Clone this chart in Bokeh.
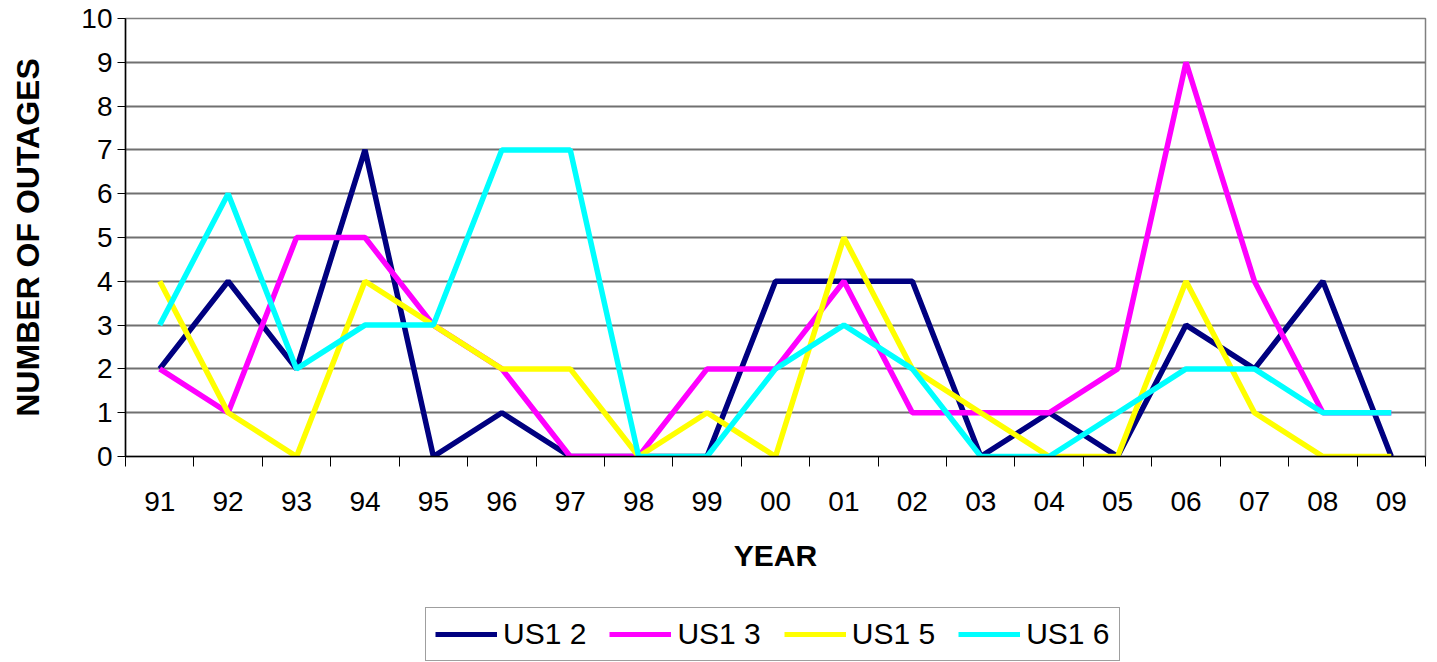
from bokeh.plotting import figure
from bokeh.layouts import column
from bokeh.models import FixedTicker, Legend, LegendItem, Range1d, ColumnDataSource
from bokeh.embed import file_html
from bokeh.resources import INLINE

years = ["91", "92", "93", "94", "95", "96", "97", "98", "99", "00",
         "01", "02", "03", "04", "05", "06", "07", "08", "09"]
us1_2 = [2, 4, 2, 7, 0, 1, 0, 0, 0, 4, 4, 4, 0, 1, 0, 3, 2, 4, 0]
us1_3 = [2, 1, 5, 5, 3, 2, 0, 0, 2, 2, 4, 1, 1, 1, 2, 9, 4, 1, 1]
us1_5 = [4, 1, 0, 4, 3, 2, 2, 0, 1, 0, 5, 2, 1, 0, 0, 4, 1, 0, 0]
us1_6 = [3, 6, 2, 3, 3, 7, 7, 0, 0, 2, 3, 2, 0, 0, 1, 2, 2, 1, 1]

series_names = ["US1 2", "US1 3", "US1 5", "US1 6"]
series_values = [us1_2, us1_3, us1_5, us1_6]
series_colors = ["#000080", "#FF00FF", "#FFFF00", "#00FFFF"]

n = len(years)
xs = [i + 0.5 for i in range(n)]

p = figure(width=1437, height=606, output_backend="svg", toolbar_location=None,
           x_range=Range1d(0, n), y_range=Range1d(0, 10),
           min_border_left=125, min_border_top=18, min_border_right=12,
           min_border_bottom=150)

p.background_fill_color = "white"
p.border_fill_color = "white"
p.outline_line_color = "#808080"
p.outline_line_width = 1.5

for name, vals, col in zip(series_names, series_values, series_colors):
    src = ColumnDataSource(dict(x=xs, y=vals))
    p.line("x", "y", source=src, line_color=col, line_width=5.5)

# x axis: labels at category centers, tick marks at boundaries
p.xaxis.ticker = FixedTicker(ticks=xs, minor_ticks=list(range(n + 1)))
p.xaxis.major_label_overrides = {x: y for x, y in zip(xs, years)}
p.xaxis.major_tick_out = 0
p.xaxis.major_tick_in = 0
p.xaxis.minor_tick_out = 10
p.xaxis.minor_tick_in = 0
p.xaxis.minor_tick_line_color = "black"
p.xaxis.major_label_standoff = 25
p.xaxis.axis_label = "YEAR"
p.xaxis.axis_label_standoff = 25

p.yaxis.ticker = FixedTicker(ticks=list(range(0, 11)))
p.yaxis.major_tick_out = 8
p.yaxis.major_tick_in = 0
p.yaxis.minor_tick_line_color = None
p.yaxis.major_label_standoff = 5
p.yaxis.axis_label = "NUMBER OF OUTAGES"
p.yaxis.axis_label_standoff = 32

for ax in (p.xaxis, p.yaxis):
    ax.axis_line_color = "black"
    ax.axis_line_width = 1.5
    ax.major_tick_line_color = "black"
    ax.major_label_text_font = "Liberation Sans"
    ax.major_label_text_font_size = "28px"
    ax.major_label_text_color = "black"
    ax.axis_label_text_font = "Liberation Sans"
    ax.axis_label_text_font_size = "30px"
    ax.axis_label_text_font_style = "bold"
    ax.axis_label_text_color = "black"
p.yaxis.axis_label_text_font_size = "32px"

p.xgrid.grid_line_color = None
p.ygrid.grid_line_color = "#707070"
p.ygrid.grid_line_width = 2

# legend strip below the chart (its frame is aligned with the chart's frame)
lg = figure(width=1437, height=56, output_backend="svg", toolbar_location=None,
            x_range=Range1d(0, 1), y_range=Range1d(0, 1),
            x_axis_type=None, y_axis_type=None,
            min_border_left=0, min_border_right=0, min_border_top=0, min_border_bottom=0)
lg.outline_line_color = None
lg.background_fill_color = "white"
lg.border_fill_color = "white"
lg.xgrid.grid_line_color = None
lg.ygrid.grid_line_color = None

nan = float("nan")
items = []
for name, col in zip(series_names, series_colors):
    r = lg.line(x=[nan, nan], y=[nan, nan], line_color=col, line_width=5)
    items.append(LegendItem(label=name, renderers=[r]))

legend = Legend(items=items, orientation="horizontal", location=(300, 1))
legend.label_text_font = "Liberation Sans"
legend.label_text_font_size = "30px"
legend.label_text_color = "black"
legend.glyph_width = 62
legend.glyph_height = 30
legend.label_standoff = 6
legend.spacing = 23
legend.padding = 9
legend.margin = 0
legend.border_line_color = "#404040"
legend.border_line_width = 1
legend.background_fill_color = "white"
lg.add_layout(legend, "center")

layout = column(p, lg, spacing=0)
open("out.html", "w").write(file_html(layout, INLINE))
